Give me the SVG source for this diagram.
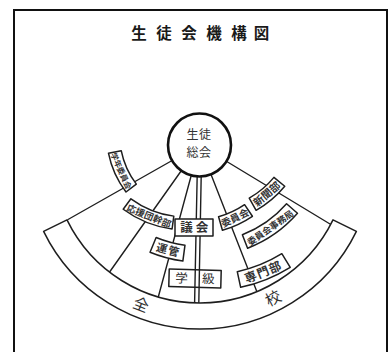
<svg xmlns="http://www.w3.org/2000/svg" width="390" height="352" viewBox="0 0 390 352">
<style>
.ln{stroke:#1e1e1e;stroke-width:1.4;fill:none;stroke-linecap:round}
.bx{fill:#fff;stroke:#1e1e1e;stroke-width:1.5;stroke-linejoin:round}
.t{font-family:"Noto Sans CJK JP","Noto Sans CJK SC",sans-serif;fill:#333;text-anchor:middle;font-weight:700}
.tl{font-family:"Noto Sans CJK JP","Noto Sans CJK SC",sans-serif;fill:#333;text-anchor:middle;font-weight:400}
.ttl{font-family:"Noto Sans CJK JP","Noto Sans CJK SC",sans-serif;fill:#1a1a1a;text-anchor:middle;font-weight:700;font-size:15.5px}
</style>
<rect width="390" height="352" fill="#fff"/>
<g id="frame">
<path d="M14,352V10H387V352" fill="none" stroke="#111" stroke-width="2"/>
</g>
<g id="title"><text class="ttl" x="139 164 189 214 239 261.5" y="38.5">生徒会機構図</text></g>
<g id="connectors" class="ln">
<line x1="199.5" y1="145" x2="68" y2="219.5"/>
<line x1="199.5" y1="145" x2="109.6" y2="272"/>
<line x1="199.5" y1="145" x2="158" y2="298"/>
<line x1="197.5" y1="160" x2="194.6" y2="303"/>
<line x1="201.5" y1="160" x2="198.8" y2="303"/>
<line x1="199.5" y1="145" x2="257" y2="292"/>
<line x1="199.5" y1="145" x2="330" y2="224"/>
</g>
<g id="zenkou">
<path class="bx" d="M67,219.9A148,148 0 0 0 333,219.9L356.4,231.3A174,174 0 0 1 43.6,231.3Z"/>
<text class="tl" transform="translate(141,304.8) rotate(21.5)" y="5.4" font-size="15.5">全</text>
<text class="tl" transform="translate(273.1,298.5) rotate(-27)" y="5.4" font-size="15.5">校</text>
</g>
<g id="sotai">
<circle cx="199.5" cy="145" r="31.5" fill="#fff" stroke="#111" stroke-width="2.6"/>
<text class="tl" x="192.5 205" y="138.5" font-size="12">生徒</text>
<text class="tl" x="192.5 205" y="157" font-size="12">総会</text>
</g>
<g id="gakunen" transform="translate(123,170) rotate(65.7)">
<path class="bx" d="M-18.36,-6.33A81.5,81.5 0 0 0 18.36,-6.33L21.29,6.33A94.5,94.5 0 0 1 -21.29,6.33Z"/>
<text class="t" y="5" font-size="7.8">学年委員会</text>
</g>
<g id="ouendan" transform="translate(150,213.3) rotate(22)">
<path class="bx" d="M-23.13,-6.3A93.5,93.5 0 0 0 23.13,-6.3L26.35,6.3A106.5,106.5 0 0 1 -26.35,6.3Z"/>
<text class="t" y="6.4" font-size="9.4">応援団幹部</text>
</g>
<g id="shinbun" transform="translate(266,193) rotate(-40)">
<path class="bx" d="M-16.12,-6.88A88,88 0 0 0 16.12,-6.88L18.69,6.88A102,102 0 0 1 -18.69,6.88Z"/>
<text class="t" y="5.2" font-size="10.5">新聞部</text>
</g>
<g id="iinkai" transform="translate(234.5,217) rotate(-25)">
<path class="bx" d="M-14.35,-6.91A92,92 0 0 0 14.35,-6.91L16.54,6.91A106,106 0 0 1 -16.54,6.91Z"/>
<text class="t" y="4.6" font-size="9.8">委員会</text>
</g>
<g id="jimukyoku" transform="translate(268.5,225) rotate(-35)">
<path class="bx" d="M-26.98,-7.04A112.75,112.75 0 0 0 26.98,-7.04L30.45,7.04A127.25,127.25 0 0 1 -30.45,7.04Z"/>
<text class="t" y="6.7" font-size="9">委員会事務局</text>
</g>
<g id="senmon" transform="translate(262.5,270) rotate(-22)">
<path class="bx" d="M-24.03,-7.88A142,142 0 0 0 24.03,-7.88L26.73,7.88A158,158 0 0 1 -26.73,7.88Z"/>
<text class="t" y="6.5" font-size="12" letter-spacing="1">専門部</text>
</g>
<g id="unkan" transform="translate(168.5,249) rotate(15)">
<path class="bx" d="M-14.94,-7.93A117,117 0 0 0 14.94,-7.93L16.98,7.93A133,133 0 0 1 -16.98,7.93Z"/>
<text class="t" y="5" font-size="11" letter-spacing="1">運管</text>
</g>
<g id="gikai" transform="translate(194,227.5)">
<rect class="bx" x="-19" y="-8.5" width="38" height="17"/>
<text class="t" x="-7.5 8" y="4.4" font-size="12.5">議会</text>
</g>
<g id="gakkyu" transform="translate(195,278.5) rotate(1.5)">
<rect class="bx" x="-26" y="-8.75" width="52" height="17.5" style="fill:none"/>
<text class="tl" x="-13.5 13.5" y="4.4" font-size="12.5">学級</text>
</g>
</svg>
